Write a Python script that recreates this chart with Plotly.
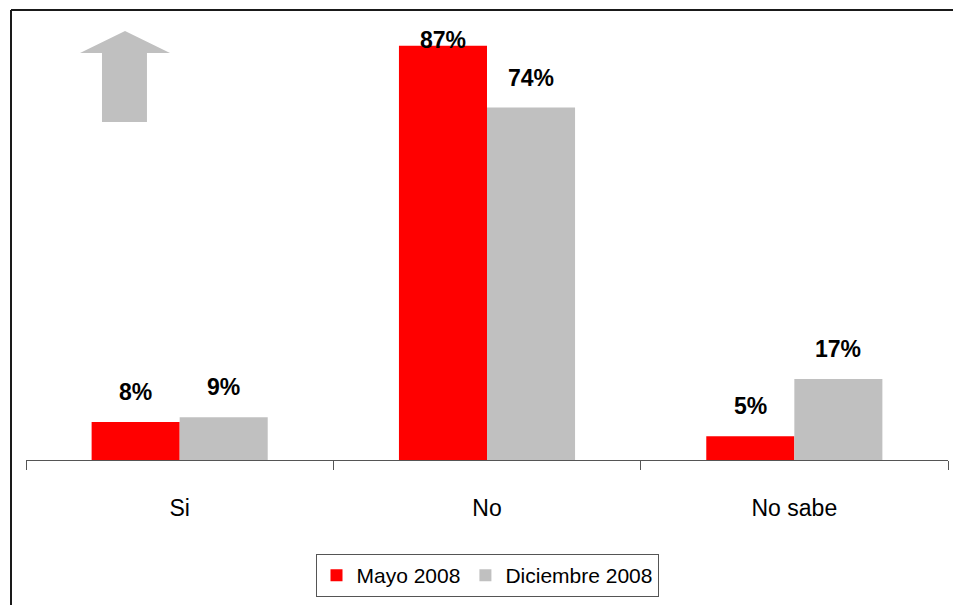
import plotly.graph_objects as go

categories = ['Si', 'No', 'No sabe']
mayo_2008 = [8, 87, 5]
diciembre_2008 = [9, 74, 17]
series_names = ['Mayo 2008', 'Diciembre 2008']
series_colors = ['#ff0000', '#c0c0c0']

FONT = 'Liberation Sans Narrow, Arial Narrow, Liberation Sans, Arial'

W, H = 953, 605
L, T, R, B = 26, 10, 5, 145
PW, PH = W - L - R, H - T - B

fig = go.Figure()
for name, vals, col in zip(series_names, [mayo_2008, diciembre_2008], series_colors):
    fig.add_trace(go.Bar(x=categories, y=vals, name=name, marker=dict(color=col, line=dict(width=0))))

# value labels above the bars
annotations = []
for vals, shift in zip([mayo_2008, diciembre_2008], [-44, 44]):
    for c, v in zip(categories, vals):
        ys = 6 if v > 80 else 30  # top label squeezed against the frame
        annotations.append(dict(x=c, y=v, xref='x', yref='y', text=f'<b>{v}%</b>',
                                showarrow=False, xshift=shift, yshift=ys,
                                font=dict(family=FONT, size=23, color='black')))

fig.update_layout(
    width=W, height=H,
    margin=dict(l=L, r=R, t=T, b=B),
    plot_bgcolor='white', paper_bgcolor='white',
    barmode='group', bargap=0.427, bargroupgap=0,
    font=dict(family=FONT, size=22, color='black'),
    annotations=annotations,
    showlegend=True,
    legend=dict(orientation='h', x=0.5, xanchor='center', y=-0.2 - 4 / PH, yanchor='top',
                bordercolor='#555555', borderwidth=1, font=dict(size=21, family=FONT),
                itemwidth=30, traceorder='normal'),
    xaxis=dict(showline=True, linecolor='#555555', linewidth=1, ticks='outside',
               tickson='boundaries', ticklen=9, tickcolor='#555555',
               ticklabelstandoff=27, tickfont=dict(size=23, family=FONT)),
    yaxis=dict(range=[0, 94.5], visible=False, showgrid=False),
)


def px(x, y):
    # reference pixel -> paper coords
    return (x - L) / PW, (H - B - y) / PH


# chart frame (left + top)
fx, fy = px(11, 10)
fig.add_shape(type='line', xref='paper', yref='paper', x0=fx, x1=fx, y0=fy, y1=px(0, 610)[1],
              line=dict(color='#1a1a1a', width=2))
fig.add_shape(type='line', xref='paper', yref='paper', x0=fx, x1=px(960, 0)[0], y0=fy, y1=fy,
              line=dict(color='#1a1a1a', width=2))

# decorative up arrow
pts = [(125, 31), (170, 53), (147, 53), (147, 122), (102, 122), (102, 53), (80, 53)]
path = 'M ' + ' L '.join(f'{px(x, y)[0]:.4f},{px(x, y)[1]:.4f}' for x, y in pts) + ' Z'
fig.add_shape(type='path', xref='paper', yref='paper', path=path,
              fillcolor='#c0c0c0', line=dict(width=0))

fig.write_html('out.html', config={'displayModeBar': False},
               post_script="document.body.style.margin='0';document.body.style.overflow='hidden';")
